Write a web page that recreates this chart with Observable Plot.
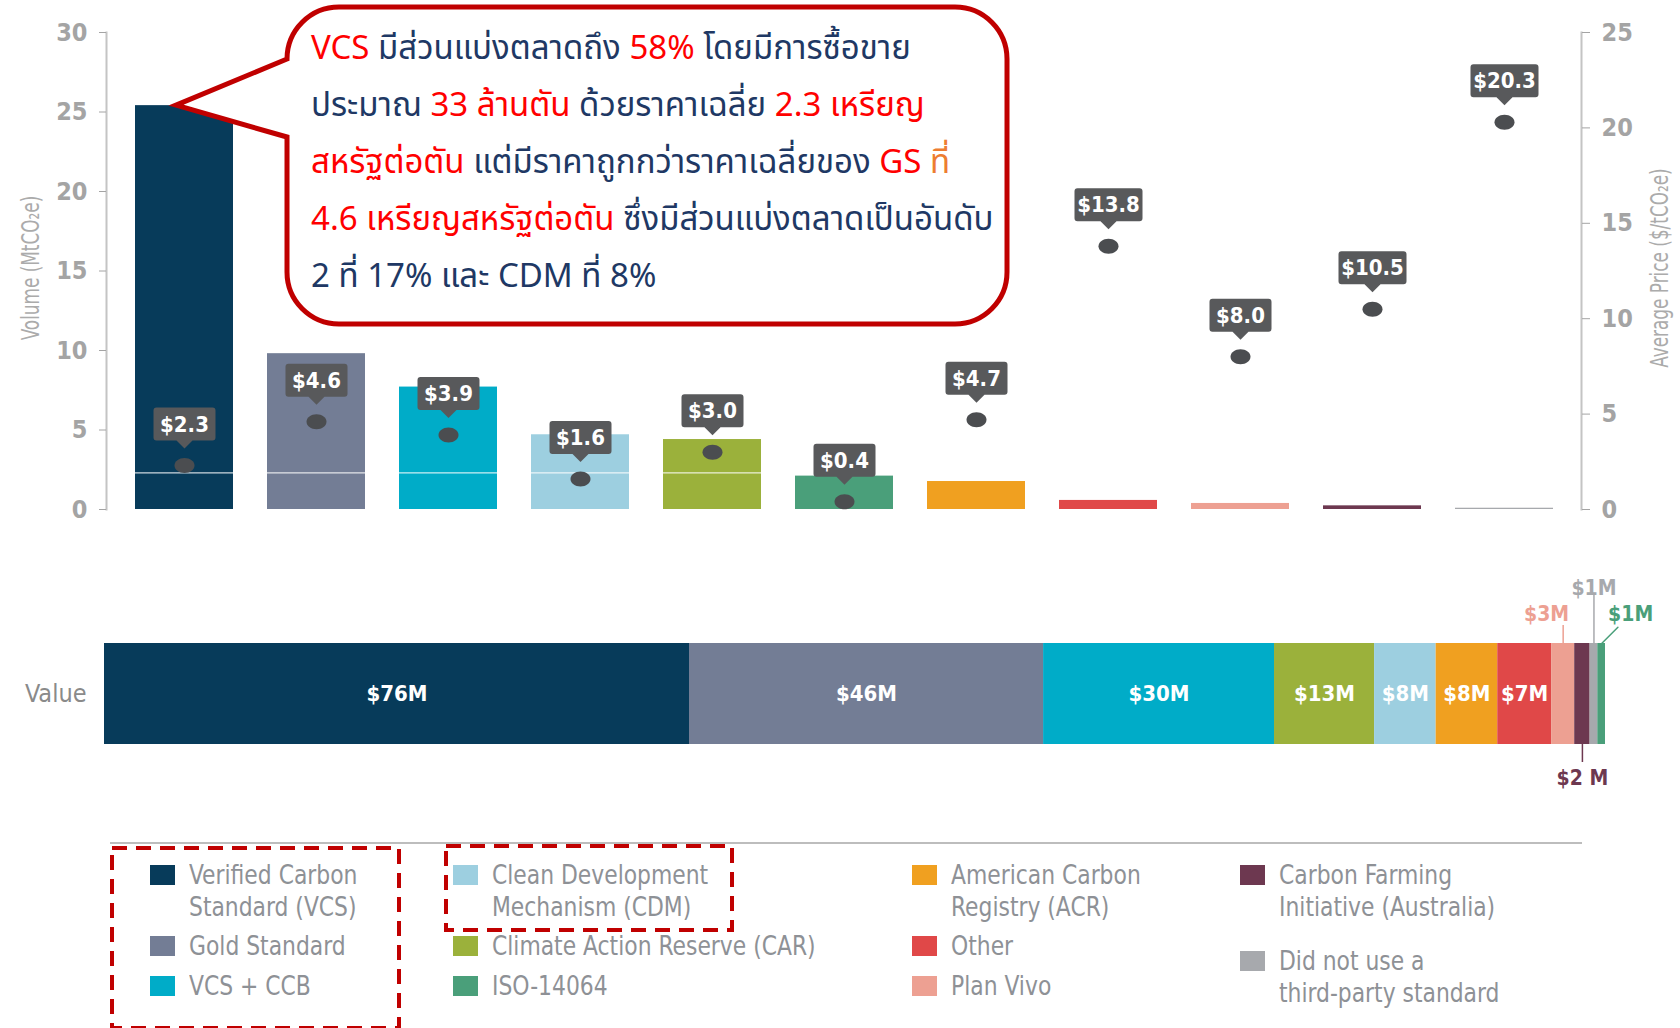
<!DOCTYPE html>
<html><head><meta charset="utf-8">
<script src="https://cdn.jsdelivr.net/npm/d3@7"></script>
<script src="https://cdn.jsdelivr.net/npm/@observablehq/plot@0.6"></script>
<style>
html,body{margin:0;padding:0;background:#fff;}
#wrap{position:relative;width:1680px;height:1028px;overflow:hidden;font-family:"Liberation Sans Narrow","DejaVu Sans Condensed","Arial Narrow",sans-serif;}
.abs{position:absolute;}
.axtitle{position:absolute;transform:translate(-50%,-50%) rotate(-90deg) scaleX(0.75);white-space:nowrap;font-size:25px;color:#ababab;}
#callout{position:absolute;left:311px;top:21px;font-family:"Noto Sans Thai","Noto Sans Thai UI","Noto Sans","Tahoma",sans-serif;font-size:33px;line-height:57px;white-space:nowrap;color:#203864;}
.leg{position:absolute;font-size:27px;line-height:32px;color:#8e9196;white-space:nowrap;transform:scaleX(0.9);transform-origin:0 0;}
.sw{position:absolute;width:25px;height:20px;}
</style></head>
<body><div id="wrap"></div>
<script>
// ---------- data ----------
const categories = ["Verified Carbon Standard (VCS)","Gold Standard","VCS + CCB","Clean Development Mechanism (CDM)","Climate Action Reserve (CAR)","ISO-14064","American Carbon Registry (ACR)","Other","Plan Vivo","Carbon Farming Initiative (Australia)","Did not use a third-party standard"];
const keys = ["VCS","GS","VCS+CCB","CDM","CAR","ISO","ACR","Other","PlanVivo","CFI","None"];
const colors = ["#073b5a","#737d95","#00acc8","#9dcfe0","#9bb13b","#4a9f7a","#f0a020","#e04848","#eda092","#6d3850","#a7a9ad"];
const volumes = [25.4, 9.8, 7.7, 4.7, 4.4, 2.1, 1.76, 0.57, 0.38, 0.23, 0.08];
const prices = [2.3, 4.6, 3.9, 1.6, 3.0, 0.4, 4.7, 13.8, 8.0, 10.5, 20.3];
const priceLabels = ["$2.3","$4.6","$3.9","$1.6","$3.0","$0.4","$4.7","$13.8","$8.0","$10.5","$20.3"];
const volumeTicks = [0,5,10,15,20,25,30];
const priceTicks = [0,5,10,15,20,25];
const valueOrder = ["VCS","GS","VCS+CCB","CAR","CDM","ACR","Other","PlanVivo","CFI","None","ISO"];
const values = [76,46,30,13,8,8,7,3,2,1,1];
const valueLabels = ["$76M","$46M","$30M","$13M","$8M","$8M","$7M","$3M","$2 M","$1M","$1M"];
const legendLines = [["Verified Carbon","Standard (VCS)"],["Gold Standard"],["VCS + CCB"],["Clean Development","Mechanism (CDM)"],["Climate Action Reserve (CAR)"],["ISO-14064"],["American Carbon","Registry (ACR)"],["Other"],["Plan Vivo"],["Carbon Farming","Initiative (Australia)"],["Did not use a","third-party standard"]];
const calloutLines = [
  [["VCS","#ff0000"],[" มีส่วนแบ่งตลาดถึง ","#203864"],["58%","#ff0000"],[" โดยมีการซื้อขาย","#203864"]],
  [["ประมาณ ","#203864"],["33 ล้านตัน","#ff0000"],[" ด้วยราคาเฉลี่ย ","#203864"],["2.3 เหรียญ","#ff0000"]],
  [["สหรัฐต่อตัน","#ff0000"],[" แต่มีราคาถูกกว่าราคาเฉลี่ยของ ","#203864"],["GS","#ff0000"],[" ที่","#ed7d31"]],
  [["4.6 เหรียญสหรัฐต่อตัน","#ff0000"],[" ซึ่งมีส่วนแบ่งตลาดเป็นอันดับ","#203864"]],
  [["2 ที่ 17% และ CDM ที่ 8%","#203864"]]
];
const refLine = 2.3;

// ---------- helpers ----------
const FONT = '"Liberation Sans Narrow","DejaVu Sans Condensed","Arial Narrow",sans-serif';
const W = 1680;
const wrap = document.getElementById("wrap");
const colorOf = Object.fromEntries(keys.map((k,i)=>[k,colors[i]]));
const colorScale = {domain: keys, range: colors};
const y2 = d3.scaleLinear().domain([0,25]).range([0,30]);

function calloutSymbol(w, h = 33, th = 8, tw = 8) {
  return {draw(ctx) {
    const r = 3, x0 = -w/2, x1 = w/2, yb = -th, yt = -th - h;
    ctx.moveTo(0, 0);
    ctx.lineTo(tw, yb);
    ctx.lineTo(x1 - r, yb); ctx.arcTo(x1, yb, x1, yb - r, r);
    ctx.lineTo(x1, yt + r); ctx.arcTo(x1, yt, x1 - r, yt, r);
    ctx.lineTo(x0 + r, yt); ctx.arcTo(x0, yt, x0, yt + r, r);
    ctx.lineTo(x0, yb - r); ctx.arcTo(x0, yb, x0 + r, yb, r);
    ctx.lineTo(-tw, yb);
    ctx.closePath();
  }};
}
const ellipseSymbol = {draw(ctx) {
  const rx = 10, ry = 7.5, k = 0.5523;
  ctx.moveTo(rx, 0);
  ctx.bezierCurveTo(rx, ry*k, rx*k, ry, 0, ry);
  ctx.bezierCurveTo(-rx*k, ry, -rx, ry*k, -rx, 0);
  ctx.bezierCurveTo(-rx, -ry*k, -rx*k, -ry, 0, -ry);
  ctx.bezierCurveTo(rx*k, -ry, rx, -ry*k, rx, 0);
  ctx.closePath();
}};

const barData = keys.map((k,i)=>({key:k, volume:volumes[i], price:prices[i], label:priceLabels[i]}));

// ---------- plot 1 ----------
const plot1 = Plot.plot({
  width: W, height: 540,
  marginLeft: 106, marginRight: 99, marginTop: 32, marginBottom: 31,
  style: {fontFamily: FONT, background: "transparent", overflow: "visible"},
  x: {domain: keys, paddingInner: 0.261, paddingOuter: 0.188, axis: null},
  y: {domain: [0,30], axis: null},
  color: colorScale,
  marks: [
    Plot.barY(barData, {x: "key", y: "volume", fill: "key"}),
    Plot.ruleY([refLine], {stroke: "#ffffff", strokeWidth: 1.2, strokeOpacity: 0.8, insetLeft: 4, insetRight: 4}),
    Plot.frame({anchor: "left", stroke: "#c4c4c4", strokeWidth: 2}),
    Plot.frame({anchor: "right", stroke: "#c4c4c4", strokeWidth: 2}),
    Plot.axisY(volumeTicks, {anchor: "left", tickSize: 7, tickPadding: 12, label: null, fontSize: 25, fontWeight: "bold", color: "#a4a4a4"}),
    Plot.axisY(priceTicks, {anchor: "right", y: y2, tickFormat: d => String(d), tickSize: 8, tickPadding: 12, label: null, fontSize: 25, fontWeight: "bold", color: "#a4a4a4"}),
    Plot.dot(barData, {x: "key", y: d => y2(d.price), symbol: ellipseSymbol, r: 8, fill: "#4b4d50"}),
    Plot.dot(barData.filter(d => d.label.length <= 4), {x: "key", y: d => y2(d.price), dy: -17, symbol: calloutSymbol(62), r: 8, fill: "#58595b"}),
    Plot.dot(barData.filter(d => d.label.length > 4), {x: "key", y: d => y2(d.price), dy: -17, symbol: calloutSymbol(68), r: 8, fill: "#58595b"}),
    Plot.text(barData, {x: "key", y: d => y2(d.price), dy: -41, text: "label", fill: "white", fontSize: 22, fontWeight: "bold"})
  ]
});
plot1.style.position = "absolute"; plot1.style.left = "0px"; plot1.style.top = "0px";
wrap.appendChild(plot1);

// axis titles
const t1 = document.createElement("div"); t1.className = "axtitle"; t1.style.left = "30px"; t1.style.top = "268px"; t1.textContent = "Volume (MtCO₂e)"; wrap.appendChild(t1);
const t2 = document.createElement("div"); t2.className = "axtitle"; t2.style.left = "1659px"; t2.style.top = "268px"; t2.textContent = "Average Price ($/tCO₂e)"; wrap.appendChild(t2);

// ---------- plot 2 ----------
const barThick = 101;
const segs = valueOrder.map((k,i)=>({key:k, value:values[i], label:valueLabels[i]}));
const cum = d3.cumsum(values);
segs.forEach((s,i)=>{ s.x2 = cum[i]; s.x1 = cum[i] - s.value; s.mid = (s.x1 + s.x2)/2; });
const seg = k => segs.filter(d => d.key === k);
const cat = () => "Value";

let isoLeader;
try {
  isoLeader = Plot.vector(seg("ISO"), {x: "mid", y: cat, dy: -barThick/2, length: 23, rotate: 45, anchor: "start", stroke: colorOf.ISO, strokeWidth: 1.5,
    shape: {draw(ctx, l) { ctx.moveTo(0,0); ctx.lineTo(0,-l); }}});
} catch (e) {
  isoLeader = Plot.tickX(seg("ISO"), {x: "mid", y: cat, insetTop: -18, insetBottom: barThick, stroke: colorOf.ISO, strokeWidth: 1.5});
}

const plot2 = Plot.plot({
  width: W, height: 260,
  marginLeft: 104, marginRight: 75, marginTop: 103, marginBottom: 260 - 103 - barThick,
  style: {fontFamily: FONT, fontSize: "25px", color: "#8a8a8a", background: "transparent", overflow: "visible"},
  x: {domain: [0, d3.sum(values)], axis: null},
  y: {domain: ["Value"], padding: 0, axis: "left", tickSize: 0, tickPadding: 18, label: null},
  color: colorScale,
  marks: [
    Plot.barX(segs, {x1: "x1", x2: "x2", y: cat, fill: "key"}),
    Plot.text(segs.filter(d => d.value >= 7), {x: "mid", y: cat, text: "label", fill: "white", fontSize: 22, fontWeight: "bold"}),
    Plot.tickX(seg("PlanVivo"), {x: "mid", y: cat, insetTop: -18, insetBottom: barThick, stroke: colorOf.PlanVivo, strokeWidth: 1.5}),
    Plot.text(seg("PlanVivo"), {x: "mid", y: cat, text: "label", dx: 6, dy: -80, textAnchor: "end", fill: colorOf.PlanVivo, fontSize: 21, fontWeight: "bold"}),
    Plot.tickX(seg("None"), {x: "mid", y: cat, insetTop: -50, insetBottom: barThick, stroke: colorOf.None, strokeWidth: 1.5}),
    Plot.text(seg("None"), {x: "mid", y: cat, text: "label", dy: -106, fill: colorOf.None, fontSize: 21, fontWeight: "bold"}),
    isoLeader,
    Plot.text(seg("ISO"), {x: "mid", y: cat, text: "label", dx: 29, dy: -80, fill: colorOf.ISO, fontSize: 21, fontWeight: "bold"}),
    Plot.tickX(seg("CFI"), {x: "mid", y: cat, insetTop: barThick, insetBottom: -18, stroke: colorOf.CFI, strokeWidth: 1.5}),
    Plot.text(seg("CFI"), {x: "mid", y: cat, text: "label", dy: 84, fill: colorOf.CFI, fontSize: 21, fontWeight: "bold"})
  ]
});
plot2.style.position = "absolute"; plot2.style.left = "0px"; plot2.style.top = "540px";
wrap.appendChild(plot2);

// ---------- legend ----------
const sep = document.createElement("div"); sep.className = "abs";
Object.assign(sep.style, {left: "110px", top: "842px", width: "1472px", height: "2px", background: "#bdbdbd"});
wrap.appendChild(sep);
const legCols = [[0,1,2],[3,4,5],[6,7,8],[9,10]];
const colX = [150, 453, 912, 1240];
const textGap = 39;
const rowTops = [[859, 930, 970],[859, 930, 970],[859, 930, 970],[859, 945]];
legCols.forEach((col, ci) => col.forEach((idx, ri) => {
  const top = rowTops[ci][ri];
  const sw = document.createElement("div"); sw.className = "sw";
  Object.assign(sw.style, {left: colX[ci] + "px", top: (top + 6) + "px", background: colors[idx]});
  wrap.appendChild(sw);
  const tx = document.createElement("div"); tx.className = "leg";
  Object.assign(tx.style, {left: (colX[ci] + textGap) + "px", top: top + "px"});
  tx.innerHTML = legendLines[idx].join("<br>");
  wrap.appendChild(tx);
}));

// dashed highlight boxes
const ns = "http://www.w3.org/2000/svg";
const deco = document.createElementNS(ns, "svg");
deco.setAttribute("width", W); deco.setAttribute("height", 1028);
Object.assign(deco.style, {position: "absolute", left: "0px", top: "0px", pointerEvents: "none"});
[[112, 848, 287, 180], [446, 846, 286, 84]].forEach(([x,y,w,h]) => {
  const r = document.createElementNS(ns, "rect");
  r.setAttribute("x", x); r.setAttribute("y", y); r.setAttribute("width", w); r.setAttribute("height", h);
  r.setAttribute("fill", "none"); r.setAttribute("stroke", "#c00000"); r.setAttribute("stroke-width", 4);
  r.setAttribute("stroke-dasharray", "15 9");
  deco.appendChild(r);
});

// speech bubble pointing at the VCS bar
const xs = plot1.scale("x"), ys = plot1.scale("y");
const tipX = xs.apply("VCS") + xs.bandwidth/2 - 8;
const tipY = ys.apply(volumes[0]);
const L = 287, T = 7, R = 1007, B = 324, rr = 52, j1 = 59, j2 = 137;
const d = `M${L},${j1} L${tipX},${tipY} L${L},${j2} L${L},${B-rr} A${rr},${rr} 0 0 0 ${L+rr},${B} L${R-rr},${B} A${rr},${rr} 0 0 0 ${R},${B-rr} L${R},${T+rr} A${rr},${rr} 0 0 0 ${R-rr},${T} L${L+rr},${T} A${rr},${rr} 0 0 0 ${L},${T+rr} Z`;
const bubble = document.createElementNS(ns, "path");
bubble.setAttribute("d", d); bubble.setAttribute("fill", "#ffffff"); bubble.setAttribute("stroke", "#c00000");
bubble.setAttribute("stroke-width", 5); bubble.setAttribute("stroke-linejoin", "miter");
deco.appendChild(bubble);
wrap.appendChild(deco);

const co = document.createElement("div"); co.id = "callout";
co.innerHTML = calloutLines.map(line => "<div>" + line.map(([t,c]) => `<span style="color:${c}">${t}</span>`).join("") + "</div>").join("");
wrap.appendChild(co);
</script>
</body></html>
